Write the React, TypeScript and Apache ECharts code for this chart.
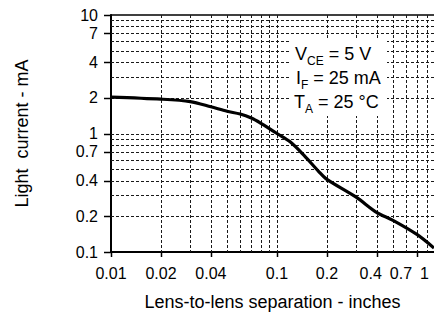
import React, { useEffect, useRef } from "react";
import * as echarts from "echarts";

// Curve (separation in inches, light current in mA)
const separation = [0.01, 0.02, 0.03, 0.04, 0.05, 0.06, 0.07, 0.08, 0.09, 0.1, 0.12, 0.146, 0.178, 0.2, 0.3, 0.4, 0.5, 0.7, 0.883];
const lightCurrent = [2.03, 1.95, 1.86, 1.68, 1.54, 1.46, 1.35, 1.22, 1.1, 1.0, 0.85, 0.65, 0.48, 0.41, 0.29, 0.215, 0.185, 0.14, 0.108];

// Grid lines
const xGridValues = [0.02, 0.03, 0.04, 0.05, 0.06, 0.07, 0.08, 0.09, 0.1, 0.2, 0.3, 0.4, 0.5, 0.6, 0.7, 0.8];
const yGridValues = [0.2, 0.3, 0.4, 0.5, 0.6, 0.7, 0.8, 0.9, 1, 2, 3, 4, 5, 6, 7, 8, 9];

// Tick labels
const xTickValues = [0.01, 0.02, 0.04, 0.1, 0.2, 0.4, 0.7, 1];
const xTickLabels = ["0.01", "0.02", "0.04", "0.1", "0.2", "0.4", "0.7", "1"];
const yTickValues = [0.1, 0.2, 0.4, 0.7, 1, 2, 4, 7, 10];
const yTickLabels = ["0.1", "0.2", "0.4", "0.7", "1", "2", "4", "7", "10"];

const X_MIN = 0.01;
const X_MAX = 0.883;
const Y_MIN = 0.1;
const Y_MAX = 10;

const FONT = '"Liberation Sans", Arial, Helvetica, sans-serif';
const TICK_FS = 16;

// rough text width estimate for layout of the x tick labels (Arial-like metrics)
const textWidth = (s: string, fs: number) =>
  s.split("").reduce((w, c) => w + (c === "." ? 0.278 : 0.556) * fs, 0);

export default function App() {
  const ref = useRef<HTMLDivElement>(null);
  useEffect(() => {
    document.body.style.margin = "0";
    const chart = echarts.init(ref.current!, null, { renderer: "svg" });
    const gridStyle = { stroke: "#1a1a1a", lineWidth: 1, lineDash: [3, 2] };
    const rich = {
      m: { fontFamily: FONT, fontSize: 18, fill: "#000", lineHeight: 22, verticalAlign: "middle" },
      s: { fontFamily: FONT, fontSize: 12, fill: "#000", lineHeight: 25, verticalAlign: "bottom" },
    };
    const option: any = {
      animation: false,
      backgroundColor: "#fff",
      grid: { left: 111, top: 15, width: 323, height: 237 },
      xAxis: [
        {
          type: "log", logBase: 10, min: X_MIN, max: X_MAX,
          axisLine: { show: true, lineStyle: { color: "#000", width: 2 } },
          axisTick: { show: false }, axisLabel: { show: false }, splitLine: { show: false },
          name: "Lens-to-lens separation - inches", nameLocation: "middle", nameGap: 41,
          nameTextStyle: { fontFamily: FONT, fontSize: 18, color: "#000" },
        },
        {
          type: "log", logBase: 10, min: X_MIN, max: X_MAX, position: "top",
          axisLine: { show: true, lineStyle: { color: "#000", width: 1.5 } },
          axisTick: { show: false }, axisLabel: { show: false }, splitLine: { show: false },
        },
      ],
      yAxis: {
        type: "log", logBase: 10, min: Y_MIN, max: Y_MAX,
        axisLine: { show: true, lineStyle: { color: "#000", width: 2 } },
        axisTick: { show: false }, axisLabel: { show: false }, splitLine: { show: false },
        name: "Light  current - mA", nameLocation: "middle", nameGap: 80,
        nameTextStyle: { fontFamily: FONT, fontSize: 18, color: "#000" },
      },
      series: [
        {
          type: "custom", clip: false, silent: true, z: 1,
          data: xGridValues.map((v) => [v, Y_MIN]),
          renderItem: (params: any, api: any) => {
            const top = api.coord([api.value(0), Y_MAX]);
            const bot = api.coord([api.value(0), Y_MIN]);
            const x = Math.round(top[0]) + 0.5;
            return { type: "line", shape: { x1: x, y1: top[1], x2: x, y2: bot[1] }, style: gridStyle };
          },
        },
        {
          type: "custom", clip: false, silent: true, z: 1,
          data: yGridValues.map((v) => [X_MIN, v]),
          renderItem: (params: any, api: any) => {
            const l = api.coord([X_MIN, api.value(1)]);
            const r = api.coord([X_MAX, api.value(1)]);
            const y = Math.round(l[1]) + 0.5;
            return { type: "line", shape: { x1: l[0], y1: y, x2: r[0], y2: y }, style: gridStyle };
          },
        },
        {
          type: "custom", clip: false, silent: true, z: 3,
          data: xTickValues.map((v) => [v, Y_MIN]),
          renderItem: (params: any, api: any) => {
            const right = params.coordSys.x + params.coordSys.width;
            // label centre, kept inside the plot's right edge and clear of the next label
            const place = (i: number): number => {
              const w = textWidth(xTickLabels[i], TICK_FS);
              const c = api.coord([xTickValues[i], Y_MIN])[0];
              let x = Math.min(c, right - 5 - w / 2);
              if (i + 1 < xTickValues.length) {
                const nx = place(i + 1);
                const nw = textWidth(xTickLabels[i + 1], TICK_FS);
                x = Math.min(x, nx - nw / 2 - 8 - w / 2);
              }
              return x;
            };
            const i = params.dataIndex;
            const p = api.coord([api.value(0), Y_MIN]);
            const x = place(i);
            const children: any[] = [
              { type: "text", style: { text: xTickLabels[i], x, y: p[1] + 21, align: "center", verticalAlign: "middle", fontFamily: FONT, fontSize: TICK_FS, fill: "#000" } },
            ];
            if (p[0] <= right) {
              const tx = Math.round(p[0]) + 0.5;
              children.push({ type: "line", shape: { x1: tx, y1: p[1], x2: tx, y2: p[1] + 5 }, style: { stroke: "#000", lineWidth: 1.5 } });
            }
            return { type: "group", children };
          },
        },
        {
          type: "custom", clip: false, silent: true, z: 3,
          data: yTickValues.map((v) => [X_MIN, v]),
          renderItem: (params: any, api: any) => {
            const p = api.coord([X_MIN, api.value(1)]);
            const y = Math.round(p[1]) + 0.5;
            return {
              type: "group",
              children: [
                { type: "line", shape: { x1: p[0] - 7, y1: y, x2: p[0], y2: y }, style: { stroke: "#000", lineWidth: 1.5 } },
                { type: "text", style: { text: yTickLabels[params.dataIndex], x: p[0] - 13, y: p[1], align: "right", verticalAlign: "middle", fontFamily: FONT, fontSize: TICK_FS, fill: "#000" } },
              ],
            };
          },
        },
        {
          type: "line", z: 5, smooth: 0.3, symbol: "none", clip: true,
          data: separation.map((x, i) => [x, lightCurrent[i]]),
          lineStyle: { color: "#000", width: 3.2 },
        },
      ],
      graphic: [
        {
          type: "group", z: 100,
          children: [
            { type: "rect", shape: { x: 290, y: 40, width: 97, height: 76 }, style: { fill: "#fff" }, z: 100 },
            { type: "text", z: 101, x: 295, y: 54, style: { text: "{m|V}{s|CE}{m| = 5 V}", verticalAlign: "middle", rich } },
            { type: "text", z: 101, x: 296, y: 78, style: { text: "{m|I}{s|F}{m| = 25 mA}", verticalAlign: "middle", rich } },
            { type: "text", z: 101, x: 294, y: 102, style: { text: "{m|T}{s|A}{m| = 25 °C}", verticalAlign: "middle", rich } },
          ],
        },
      ],
    };
    chart.setOption(option);
    return () => chart.dispose();
  }, []);
  return <div ref={ref} style={{ width: 434, height: 317 }} />;
}
